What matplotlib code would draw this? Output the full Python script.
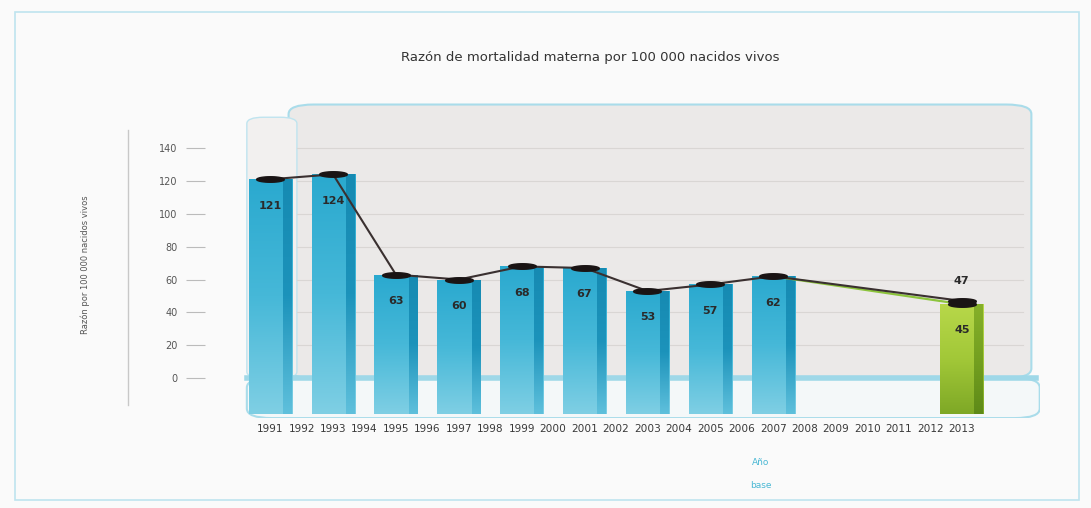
import numpy as np
import matplotlib
matplotlib.use("Agg")
import matplotlib.pyplot as plt
from matplotlib.patches import FancyBboxPatch, Rectangle
from matplotlib.path import Path
from matplotlib.colors import LinearSegmentedColormap

# ---- data ----
tick_years = list(range(1991, 2014))
bar_years = [1991, 1993, 1995, 1997, 1999, 2001, 2003, 2005, 2007]
bar_values = [121, 124, 63, 60, 68, 67, 53, 57, 62]
goal_year = 2013
goal_value = 45
trend_end_value = 47
yticks = [0, 20, 40, 60, 80, 100, 120, 140]

title = "Razón de mortalidad materna por 100 000 nacidos vivos"
ylabel = "Razón por 100 000 nacidos vivos"

# ---- style ----
floor = -22
bw = 1.37
XL = (1988.93, 2015.48)
YL = (-24.3, 169.2)
blue_cmap = LinearSegmentedColormap.from_list("b", ["#7fcfe4", "#46b8d8", "#2aa9cf"])
blue_side_cmap = LinearSegmentedColormap.from_list("bs", ["#5fc0dc", "#1c93bb", "#168ab2"])
green_cmap = LinearSegmentedColormap.from_list("g", ["#7ea826", "#a2c838", "#b8d84a"])
green_side_cmap = LinearSegmentedColormap.from_list("gs", ["#5e8a18", "#74a020", "#86b02a"])

fig = plt.figure(figsize=(10.91, 5.08), dpi=100)
fig.patch.set_facecolor("#fafafa")
ax = fig.add_axes([0.188, 0.177, 0.765, 0.626])
ax.set_facecolor("none")

# background panel and floor
panel = FancyBboxPatch((0.10, 0.126), 0.89, 0.86, boxstyle="round,pad=0,rounding_size=0.03",
                       transform=ax.transAxes, facecolor="#ebe9e8", edgecolor="#a9dcea",
                       linewidth=1.5, zorder=0)
ax.add_patch(panel)
wall = FancyBboxPatch((0.05, 0.126), 0.06, 0.82, boxstyle="round,pad=0,rounding_size=0.02",
                      transform=ax.transAxes, facecolor="#f2f0ef", edgecolor="#bfe4ef",
                      linewidth=1.0, zorder=0)
ax.add_patch(wall)
floorp = FancyBboxPatch((0.05, 0.0), 0.95, 0.126, boxstyle="round,pad=0,rounding_size=0.03",
                        transform=ax.transAxes, facecolor="#f4f8f9", edgecolor="#a9dcea",
                        linewidth=1.5, zorder=0.5)
ax.add_patch(floorp)
ax.axhline(0, xmin=0.05, xmax=0.995, color="#9fd8e8", lw=4, zorder=0.6)

for t in yticks[1:]:
    ax.axhline(t, xmin=0.11, xmax=0.98, color="#d9d6d4", lw=0.8, zorder=0.7)

grad = np.linspace(0, 1, 256).reshape(-1, 1)


def grad_bars(container, cmap, z):
    for p in container.patches:
        p.set_facecolor("none")
        p.set_edgecolor("none")
        x0, y0 = p.get_x(), p.get_y()
        im = ax.imshow(grad, cmap=cmap, origin="lower", aspect="auto",
                       extent=[x0, x0 + p.get_width(), y0, y0 + p.get_height()],
                       zorder=z, interpolation="bilinear")
        im.set_clip_path(p)


# bars
c1 = ax.bar(bar_years, np.array(bar_values) - floor, bottom=floor, width=bw, zorder=2)
grad_bars(c1, blue_cmap, 2)
c2 = ax.bar(np.array(bar_years) + bw / 2 - 0.14, np.array(bar_values) - floor, bottom=floor,
            width=0.28, zorder=2.1)
grad_bars(c2, blue_side_cmap, 2.1)
c3 = ax.bar([goal_year], [goal_value - floor], bottom=floor, width=bw, zorder=2)
grad_bars(c3, green_cmap, 2)
c4 = ax.bar([goal_year + bw / 2 - 0.14], [goal_value - floor], bottom=floor, width=0.28,
            zorder=2.1)
grad_bars(c4, green_side_cmap, 2.1)

# ellipse marker
th = np.linspace(0, 2 * np.pi, 40)
ell = Path(np.column_stack([np.cos(th) * 1.0, np.sin(th) * 0.2]))

line_x = bar_years + [goal_year]
line_y = bar_values + [trend_end_value]
ax.plot([bar_years[-1], goal_year], [bar_values[-1], goal_value], color="#8cc43c",
        lw=1.6, zorder=3)
ax.plot(line_x, line_y, color="#3a3030", lw=1.5, zorder=3.1)
ax.plot(line_x, line_y, ls="none", marker=ell, markersize=20, color="#1a1414", zorder=3.2)
ax.plot([goal_year], [goal_value], ls="none", marker=ell, markersize=20,
        color="#1a1414", zorder=3.2)

for x, v in zip(bar_years, bar_values):
    ax.text(x, v - 16, str(v), ha="center", va="center", fontsize=8,
            fontweight="bold", color="#2a2a2a", zorder=4)
ax.text(goal_year, goal_value - 16, str(goal_value), ha="center", va="center",
        fontsize=8, fontweight="bold", color="#2a2a2a", zorder=4)
ax.text(goal_year, trend_end_value + 12, str(trend_end_value), ha="center",
        va="center", fontsize=8, fontweight="bold", color="#2a2a2a", zorder=4)

# axes styling
ax.set_xlim(*XL)
ax.set_ylim(*YL)
for s in ax.spines.values():
    s.set_visible(False)
ax.set_yticks(yticks)
ax.set_yticklabels([str(t) for t in yticks], fontsize=7, color="#555555")
ax.tick_params(axis="y", length=14, color="#bbbbbb", pad=6, width=0.8)
ax.set_xticks(tick_years)
ax.set_xticklabels([str(y) for y in tick_years], fontsize=7.6, color="#3a3a3a")
ax.tick_params(axis="x", length=0, pad=4)

fig.text(0.541, 0.886, title, ha="center", va="center", fontsize=9.5, color="#333333")
fig.text(0.078, 0.478, ylabel, rotation=90, ha="center", va="center",
         fontsize=6, color="#555555")
fig.text(0.697, 0.09, "Año", ha="center", va="center", fontsize=6.5, color="#4ab8d4")
fig.text(0.697, 0.045, "base", ha="center", va="center", fontsize=6.5, color="#4ab8d4")

fig.add_artist(plt.Line2D([0.117, 0.117], [0.203, 0.744], transform=fig.transFigure,
                          color="#c8c8c8", lw=1))
fig.add_artist(Rectangle((0.014, 0.016), 0.975, 0.96, transform=fig.transFigure,
                         fill=False, edgecolor="#bfe4ef", lw=1.2))

fig.savefig("out.png", dpi=100, facecolor=fig.get_facecolor())
